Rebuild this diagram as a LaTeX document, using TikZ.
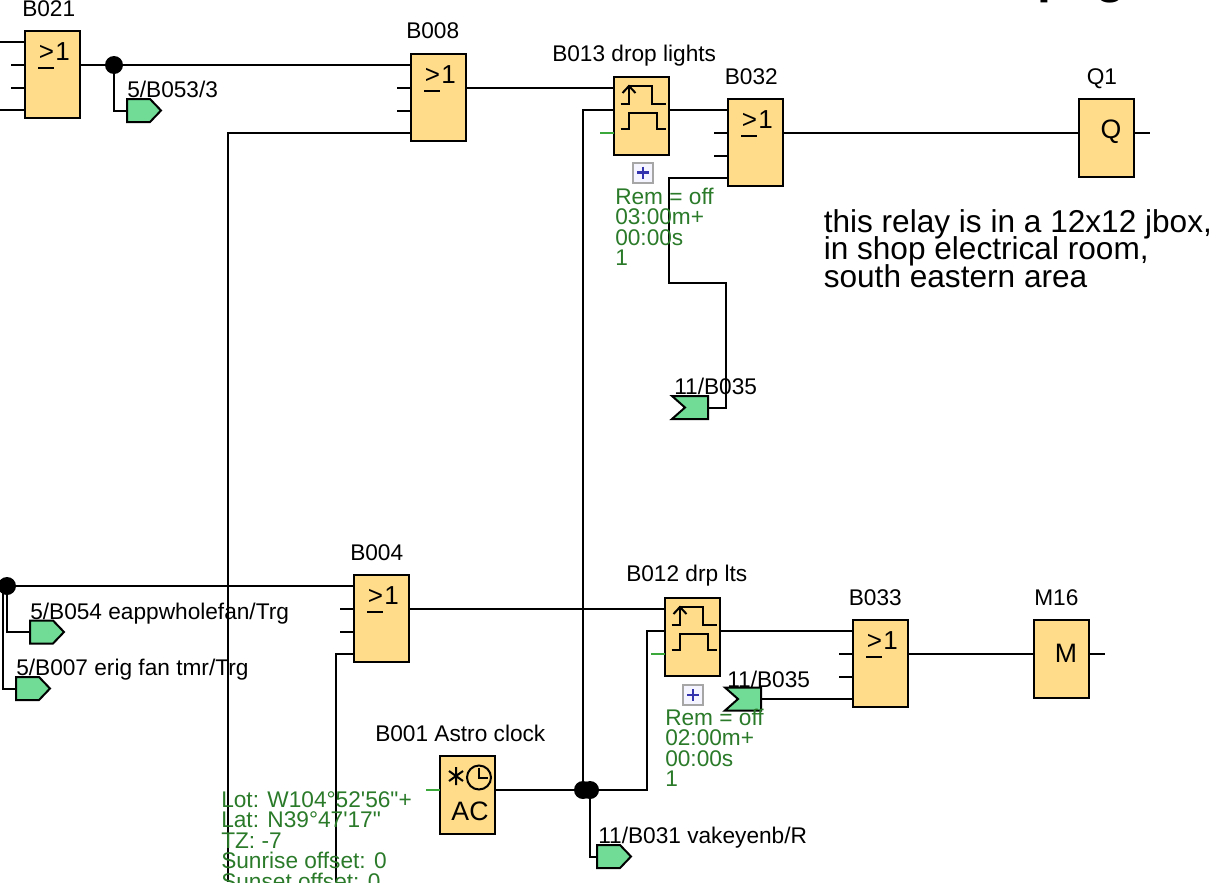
\documentclass[tikz,border=0pt]{standalone}
\usepackage{fontspec}
\setmainfont{Liberation Sans}
\usetikzlibrary{calc}

\definecolor{blockfill}{HTML}{FFDC8A}
\definecolor{tagfill}{HTML}{70DC96}
\definecolor{paramgreen}{HTML}{2A7A2A}
\definecolor{stubgreen}{HTML}{3AA83A}

\lineskiplimit=-50pt

\tikzset{
  wire/.style={line width=1.5pt},
  gstub/.style={line width=1.5pt, stubgreen},
  gate/.style={draw, line width=1.5pt, fill=blockfill, anchor=north west, inner sep=0pt, outer sep=0pt, minimum width=41.25pt, minimum height=65.25pt},
  timerbox/.style={gate, minimum height=58.5pt},
  dot/.style={circle, fill=black, inner sep=0pt, minimum size=13.5pt},
  lbl/.style={anchor=base west, inner sep=0pt, font=\fontsize{17}{18}\selectfont},
  param/.style={anchor=north west, inner sep=0pt, align=left, text=paramgreen, font=\fontsize{17}{15.4}\selectfont},
  sign/.style={anchor=base west, inner sep=0pt, font=\fontsize{19.5}{20}\selectfont},
  bigsign/.style={inner sep=0pt, font=\fontsize{20}{20}\selectfont},
  outtag/.pic={
    \coordinate (-pin) at (0,0);
    \draw[line width=1.5pt, fill=tagfill] (0,-11.5) -- (23,-11.5) -- (34,0) -- (23,11.5) -- (0,11.5) -- cycle;
  },
  intag/.pic={
    \coordinate (-pin) at (0,0);
    \draw[line width=1.5pt, fill=tagfill] (-36,-11.5) -- (0,-11.5) -- (0,11.5) -- (-36,11.5) -- (-23,0) -- cycle;
  },
  plusbox/.pic={
    \draw[line width=1.5pt, draw=black!35, fill=blue!4] (-10,-10) rectangle (10,10);
    \draw[line width=2pt, blue!60!black!80] (-6,0) -- (6,0) (0,-6) -- (0,6);
  },
  pulses/.pic={
    \draw[line width=1.5pt] (6.7,27) -- (15,27) -- (15,9) -- (37.7,9) -- (37.7,27) -- (52,27);
    \draw[line width=1.5pt] (8.5,16) -- (15,9) -- (21.5,16);
    \draw[line width=1.5pt] (6.7,52) -- (15,52) -- (15,36) -- (43,36) -- (43,52) -- (52,52);
  },
}

% or block: name, x, y
\newcommand{\orgate}[3]{
  \node[gate] (#1) at (#2,#3) {};
  \node[sign] (#1s) at ($(#1.north west)+(13.5,29)$) {>\kern1pt 1};
  \draw[line width=1.5pt] ($(#1.north west)+(13,36.5)$) -- ($(#1.north west)+(29,36.5)$);
  \foreach \i/\d in {1/11,2/34,3/56.5,4/79}
    \coordinate (#1p\i) at ($(#1.north west)+(0,\d)$);
  \coordinate (#1o) at ($(#1.north east)+(0,34)$);
}
% timer block: name, x, y
\newcommand{\timerblock}[3]{
  \node[timerbox] (#1) at (#2,#3) {};
  \pic at (#2,#3) {pulses};
  \foreach \i/\d in {1/11,2/33,3/56}
    \coordinate (#1p\i) at ($(#1.north west)+(0,\d)$);
  \coordinate (#1o) at ($(#1.north east)+(0,33)$);
}

\begin{document}
\begin{tikzpicture}[x=0.75pt,y=-0.75pt]
  \useasboundingbox (0,0) rectangle (1226,882);
  \clip (0,0) rectangle (1226,882);

  % Draw blocks
  \orgate{B021}{25}{31}
  \orgate{B008}{411}{54}
  \orgate{B032}{728}{99}
  \orgate{B004}{354}{575}
  \orgate{B033}{853}{620}
  \timerblock{B013}{614}{77}
  \timerblock{B012}{665}{598}

  \node[timerbox] (Q1) at (1079,99) {};
  \node[bigsign] (Q1s) at (1111,132) {Q};
  \coordinate (Q1p) at ($(Q1.north west)+(0,34)$);
  \coordinate (Q1o) at ($(Q1.north east)+(0,34)$);
  \node[timerbox] (M16) at (1034,620) {};
  \node[bigsign] (M16s) at (1066,653) {M};
  \coordinate (M16p) at ($(M16.north west)+(0,34)$);
  \coordinate (M16o) at ($(M16.north east)+(0,34)$);

  \node[timerbox] (B001) at (440,756) {};
  \node[bigsign] (B001s) at (470,811) {AC};
  \coordinate (B001p) at ($(B001.north west)+(0,34)$);
  \coordinate (B001o) at ($(B001.north east)+(0,34)$);
  \draw[line width=1.5pt] (456,767) -- (456,785) (449,771) -- (463,781) (449,781) -- (463,771);
  \draw[line width=1.5pt] (479,777.5) circle (12);
  \draw[line width=1.5pt] (479,768) -- (479,778) -- (488,778);

  % Draw tags
  \pic (T053) at (127,110.5) {outtag};
  \pic (T054) at (30,632) {outtag};
  \pic (T007) at (16,688.5) {outtag};
  \pic (T031) at (597,856.5) {outtag};
  \pic (T035a) at (708,407.5) {intag};
  \pic (T035b) at (761,699) {intag};
  \pic at (643,172.5) {plusbox};
  \pic at (693,695) {plusbox};

  % Draw junctions
  \node[dot] (J021) at (114,65) {};
  \node[dot] (JL) at (7,586) {};
  \node[dot] (JA) at (583,790) {};
  \node[dot] (JB) at (590,790) {};
  \coordinate (JLb) at (2.5,586);
  \coordinate (offA) at (228,882);
  \coordinate (offB) at (336,882);
  \coordinate (turnA) at (669,283);
  \coordinate (turnB) at (726,283);
  \coordinate (B012v) at (646.5,790);

  % Draw wires
  \draw[wire] (B021o) -- (B008p1);
  \draw[wire] (J021) -- (J021 |- T053-pin) -- (T053-pin);
  \draw[wire] (B008o) -- (B013p1);
  \draw[wire] (B008p4) -- (offA |- B008p4) -- (offA);
  \draw[wire] (JA) -- (JA |- B013p2) -- (B013p2);
  \draw[wire] (B013o) -- (B032p1);
  \draw[wire] (B032o) -- (Q1p);
  \draw[wire] (B032p4) -- (turnA |- B032p4) -- (turnA) -- (turnB) -- (turnB |- T035a-pin) -- (T035a-pin);
  \draw[wire] (JL) -- (B004p1);
  \draw[wire] (JL) -- (JL |- T054-pin) -- (T054-pin);
  \draw[wire] (JLb) -- (JLb |- T007-pin) -- (T007-pin);
  \draw[wire] (B004p4) -- (offB |- B004p4) -- (offB);
  \draw[wire] (B004o) -- (B012p1);
  \draw[wire] (B012o) -- (B033p1);
  \draw[wire] (T035b-pin) -- (B033p4);
  \draw[wire] (B033o) -- (M16p);
  \draw[wire] (B001o) -- (B012v) -- (B012v |- B012p2) -- (B012p2);
  \draw[wire] (JB) -- (JB |- T031-pin) -- (T031-pin);

  % Draw open pins
  \foreach \p in {B021p2,B021p3,B008p2,B008p3,B032p2,B032p3,B004p2,B004p3,B033p2,B033p3}
    \draw[wire] (\p) -- ++(-14,0);
  \foreach \p in {B021p1,B021p4}
    \draw[wire] (\p) -- ++(-25,0);
  \foreach \p in {Q1o,M16o}
    \draw[wire] (\p) -- ++(16,0);
  \foreach \p in {B013p3,B012p3,B001p}
    \draw[gstub] (\p) -- ++(-14,0);

  % Draw labels
  \node[lbl] (tB021) at (22,16) {B021};
  \node[lbl] (tB008) at (406,38) {B008};
  \node[lbl] (tB013) at (552,61) {B013 drop lights};
  \node[lbl] (tB032) at (724.5,84) {B032};
  \node[lbl] (tQ1) at (1086.5,84) {Q1};
  \node[lbl] (tT053) at (127,97) {5/B053/3};
  \node[lbl] (tT035a) at (674,394) {11/B035};
  \node[lbl] (tB004) at (350,560) {B004};
  \node[lbl] (tT054) at (30,619) {5/B054 eappwholefan/Trg};
  \node[lbl] (tT007) at (16,675) {5/B007 erig fan tmr/Trg};
  \node[lbl] (tB012) at (626,581) {B012 drp lts};
  \node[lbl] (tB033) at (848.5,605) {B033};
  \node[lbl] (tM16) at (1034,605) {M16};
  \node[lbl] (tT035b) at (727,687) {11/B035};
  \node[lbl] (tB001) at (375,741) {B001 Astro clock};
  \node[lbl] (tT031) at (598,843) {11/B031 vakeyenb/R};

  \node[param] (pB013) at (615,187.5) {Rem = off\\03:00m+\\00:00s\\1};
  \node[param] (pB012) at (665,708.5) {Rem = off\\02:00m+\\00:00s\\1};
  \node[param] (pB001) at (221,791) {Lot: W104°52\textquotesingle 56\textquotedbl+\\Lat: N39°47\textquotesingle 17\textquotedbl\\TZ: -7\\Sunrise offset: 0\\Sunset offset: 0};

  \node[anchor=north west, inner sep=0pt, align=left, font=\fontsize{23.7}{20.6}\selectfont] (note) at (823.5,209) {this relay is in a 12x12 jbox,\\in shop electrical room,\\south eastern area};
  \node[anchor=base west, inner sep=0pt, font=\fontsize{37.5}{37.5}\selectfont\bfseries] (title) at (1037,-7.5) {page};
\end{tikzpicture}
\end{document}
